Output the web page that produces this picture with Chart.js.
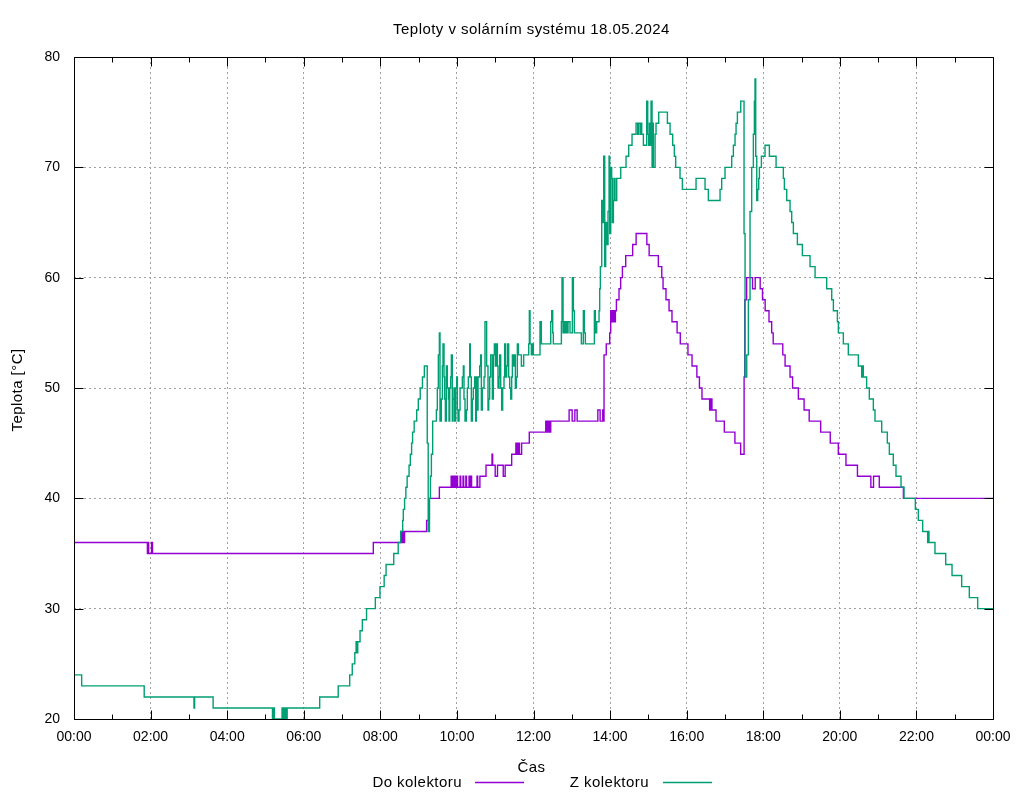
<!DOCTYPE html>
<html><head><meta charset="utf-8">
<script src="https://cdn.jsdelivr.net/npm/chart.js@4.4.1/dist/chart.umd.min.js"></script>
<style>html,body{margin:0;padding:0;background:#fff;overflow:hidden}</style>
</head><body>
<canvas id="c" width="1024" height="800" style="display:block;width:1024px;height:800px"></canvas>
<script>
const FONT = '"Liberation Sans", Arial, Helvetica, sans-serif';
const titleText = 'Teploty v solárním systému 18.05.2024';
const xAxisTitle = 'Čas';
const yAxisTitle = 'Teplota [°C]';
const seriesNames = ['Do kolektoru', 'Z kolektoru'];
const seriesColors = ['#9400d3', '#009e73'];

// time in minutes since midnight, temperature in °C
const doTimes = [0,115,116,117,121.5,123,469,512,513.5,515,516.5,518,552.5,556.8,572.5,
591,592,594,595,597,598,600,601,605,606,609.6,610.6,614,615,619,620,622,623,631.5,632.5,
636,645.6,655,656,660,663.6,672.6,675.6,685.8,692.4,694,696,698,701.4,713.4,739.2,741,743,745,747,
775.8,780.6,784.8,788.4,820.8,824.4,828.5,829.5,830.5,834,839.4,841,843,845,847,848.3,849.9,854,856.6,
859.3,864.5,875.4,880.8,897.6,901.2,915.6,921,923,927.6,932.4,937,945,950,962,968.4,976,980,984,
996,998,999.6,1006,1019,1035.6,1044.6,1050,1051,1054,1063.2,1067.4,1075.2,1078.8,1083,1089,1093.2,
1095.6,1110.6,1114.2,1122,1126,1135,1144,1152,1170,1185,1197.6,1209.6,1227.6,1248.6,1252.8,1261.8,
1299.6,1440];
const doValues = [36,35,36,35,36,35,36,37,36,37,36,37,38,40,41,
42,41,42,41,42,41,42,41,42,41,42,41,42,41,42,41,42,41,42,41,
42,43,44,43,42,43,42,43,44,45,44,45,44,45,46,47,46,47,46,47,
48,47,48,47,48,47,48,47,53,54,55,57,56,57,56,57,58,59,60,
61,62,63,64,63,62,61,60,59,58,57,56,55,54,53,52,51,50,49,
48,49,48,47,46,45,44,51,58,60,59,60,59,58,57,56,55,
54,53,52,51,50,49,48,47,46,45,44,43,42,41,42,41,
40,40];

const zTimes = [0,12,110,188,189,218,311,312.5,314,326,327,328.5,330,331.5,333,334,385,414,432,436,440,442,443,
444.6,448.2,451.8,458.4,472.2,479.4,486,489,501,508,512,515,516,518,520,522,525,527,529,530.5,533,537,539.5,
542.5,546,549,553.5,555,557,558.5,560,562,
564.1,567.8,569.3,570.9,572.5,573.5,575.6,577.2,578.2,579.8,580.8,581.9,583.4,585,586.6,587.6,588.7,590.2,
591.3,592.8,593.9,595.4,596.5,598.1,599.6,600.7,601.7,603.3,604.9,608.5,610.1,611.1,612.7,614.8,616.3,617.9,
620,621,622.6,624.2,625.7,627.8,629.4,630.4,632,633.1,635.7,637.2,638.3,639.8,642.5,644,646.6,648.7,649.8,
651.3,652.9,655.5,657.1,658.7,660.2,661.8,663.4,664.4,666,667,668.6,670.1,671.7,673.8,674.8,676.4,678,679.6,
681.1,682.7,684.3,685.8,686.9,688.4,690,691.6,693.1,694.7,696.3,701,704.6,712.5,713.5,714.6,716.6,718.2,
719.8,730.2,732.3,747,748.5,750.1,751.1,763.7,764.7,766.3,767.8,769.4,771,772.5,774.1,777.2,780.9,782.5,
784,795,798.1,799.7,801.3,815.4,816.9,819,822.7,823.7,824.8,826.9,828.4,830,831.6,833.1,834.7,836.8,838.4,
839.4,841,842.5,843.6,845.2,846.2,847.8,850.4,856.7,865,869.2,874.4,880.7,883.3,884.3,887,888,889.6,892.2,
897.4,899,900.5,901.6,902.6,904.2,905.8,906.8,907.8,910.5,912,916.2,929.8,934,938.1,940.7,942.8,949.6,953.3,
974.7,988.8,994,1012.3,1014.9,1020.1,1030.6,1033.2,1035.8,1037.4,1039.5,1044.7,1049.9,1051.5,1054.1,1056.7,
1059.3,1061.9,1064.5,1066.1,1067.1,1068.2,1069.8,1071.3,1072.9,1074,1077.1,1082.8,1089.6,1100.1,1111.5,
1113.1,1116.8,1122,1124.6,1127.2,1133.5,1141.3,1153.3,1161.2,1179.4,1187.3,1189.9,1196.2,1197.7,1205.5,
1213.3,1229,1234.2,1235.2,1236.8,1242,1246.2,1252.5,1255.1,1265.6,1274.4,1277.6,1283.8,1288,1295.9,1300.6,
1318.3,1323,1329.8,1337.6,1338.6,1339.7,1349.1,1365.9,1375.8,1390.9,1402.9,1416,1440];
const zValues = [24,23,22,21,22,21,20,21,20,21,20,21,20,21,20,21,22,23,24,25,26,27,26,
27,28,29,30,31,32,33,34,35,36,37,38,39,40,41,42,43,44,45,46,47,48,49,
50,51,52,45,37,40,42,44,47,
47,48,50,53,55,47,49,52,54,51,49,47,52,50,49,47,50,51,
53,47,49,50,47,50,51,48,47,48,50,51,52,49,47,48,50,51,
54,51,47,49,50,51,47,51,48,51,52,53,48,50,51,56,52,48,49,
51,53,49,53,54,52,54,52,50,51,53,50,48,50,51,54,51,52,54,
51,50,49,51,53,52,53,50,51,54,53,52,53,54,57,54,53,54,
53,56,54,56,57,55,54,56,60,55,56,55,56,55,56,55,60,57,
55,54,57,55,54,57,55,56,57,59,61,67,65,71,61,65,63,66,71,
64,70,69,65,67,69,67,69,70,71,72,73,74,73,74,73,74,73,72,
76,73,72,74,72,76,70,74,70,73,74,75,74,73,72,71,70,69,68,
69,68,67,68,69,70,71,72,73,74,75,76,64,51,53,58,
66,70,73,76,78,71,67,68,69,70,71,72,71,70,69,
68,67,66,65,64,63,62,61,60,59,58,57,56,55,54,
53,52,51,52,51,50,49,48,47,46,45,44,43,42,41,40,
39,38,37,36,37,36,35,34,33,32,31,30,30];

const xMin = 0, xMax = 1440, xStep = 120, xMinorStep = 60;
const yMin = 20, yMax = 80, yStep = 10;

function toPoints(t, v){ return t.map((m,i)=>({x:m, y:v[i]})); }
function fmtTime(m){ const h = Math.floor(m/60)%24, mm = Math.round(m%60); return String(h).padStart(2,'0')+':'+String(mm).padStart(2,'0'); }

const deco = {
  id: 'deco',
  afterDatasetsDraw(chart){
    const {ctx, chartArea:a, scales:{x, y}} = chart;
    ctx.save();
    ctx.strokeStyle = '#000'; ctx.lineWidth = 1; ctx.setLineDash([]);
    const L = Math.round(a.left)+0.5, R = Math.round(a.right)+0.5, T = Math.round(a.top)+0.5, B = Math.round(a.bottom)+0.5;
    ctx.beginPath();
    ctx.rect(L, T, R-L, B-T);
    for (let m = xMin; m <= xMax; m += xMinorStep){
      const px = Math.round(x.getPixelForValue(m))+0.5;
      const len = (m % xStep === 0) ? 9 : 5;
      ctx.moveTo(px, B); ctx.lineTo(px, B-len);
      ctx.moveTo(px, T); ctx.lineTo(px, T+len);
    }
    for (let v = yMin; v <= yMax; v += yStep){
      const py = Math.round(y.getPixelForValue(v))+0.5;
      ctx.moveTo(L, py); ctx.lineTo(L+9, py);
      ctx.moveTo(R, py); ctx.lineTo(R-9, py);
    }
    ctx.stroke();

    ctx.fillStyle = '#000';
    ctx.font = '15px ' + FONT;
    try { ctx.letterSpacing = '0.45px'; } catch(e) {}
    ctx.textBaseline = 'alphabetic';
    const cx = (a.left + a.right)/2 - 2;
    ctx.textAlign = 'center';
    ctx.fillText(titleText, cx, 34);
    ctx.fillText(xAxisTitle, cx, 772);
    ctx.save();
    ctx.translate(22, (a.top + a.bottom)/2 + 2);
    ctx.rotate(-Math.PI/2);
    ctx.fillText(yAxisTitle, 0, 0);
    ctx.restore();

    // legend (gnuplot style: text, then line sample)
    const legend = [
      {name: seriesNames[0], color: seriesColors[0], textRight: 462, x0: 475, x1: 524},
      {name: seriesNames[1], color: seriesColors[1], textRight: 649, x0: 663, x1: 712}
    ];
    ctx.textAlign = 'right';
    legend.forEach(it => {
      ctx.fillStyle = '#000';
      ctx.fillText(it.name, it.textRight, 787);
      ctx.strokeStyle = it.color; ctx.lineWidth = 1.3;
      ctx.beginPath(); ctx.moveTo(it.x0, 782.5); ctx.lineTo(it.x1, 782.5); ctx.stroke();
    });
    ctx.restore();
  }
};

const gridColor = '#a0a0a0';
new Chart(document.getElementById('c'), {
  type: 'line',
  data: {
    datasets: [
      {label: seriesNames[1], data: toPoints(zTimes, zValues), borderColor: seriesColors[1], backgroundColor: seriesColors[1], borderWidth: 1.4, pointRadius: 0, stepped: 'before', fill: false, order: 0},
      {label: seriesNames[0], data: toPoints(doTimes, doValues), borderColor: seriesColors[0], backgroundColor: seriesColors[0], borderWidth: 1.4, pointRadius: 0, stepped: 'before', fill: false, order: 1}
    ]
  },
  options: {
    responsive: false,
    animation: false,
    devicePixelRatio: 1,
    parsing: false,
    layout: {padding: {left: 0, right: 31, top: 57, bottom: 51}},
    plugins: {legend: {display: false}, title: {display: false}, tooltip: {enabled: false}},
    scales: {
      x: {
        type: 'linear', min: xMin, max: xMax,
        afterFit(s){ s.height = 30; },
        ticks: {stepSize: xStep, autoSkip: false, maxRotation: 0, padding: 10, color: '#000',
                font: {family: FONT, size: 14}, callback: v => fmtTime(v)},
        grid: {drawTicks: false, lineWidth: 1,
               color: c => (c.tick && (c.tick.value === xMin || c.tick.value === xMax)) ? 'rgba(0,0,0,0)' : gridColor},
        border: {display: false, dash: [2, 3]}
      },
      y: {
        min: yMin, max: yMax,
        afterFit(s){ s.width = 74; },
        ticks: {stepSize: yStep, padding: 14, color: '#000', font: {family: FONT, size: 14}},
        grid: {drawTicks: false, lineWidth: 1,
               color: c => (c.tick && (c.tick.value === yMin || c.tick.value === yMax)) ? 'rgba(0,0,0,0)' : gridColor},
        border: {display: false, dash: [2, 3]}
      }
    }
  },
  plugins: [deco]
});
</script>
</body></html>
